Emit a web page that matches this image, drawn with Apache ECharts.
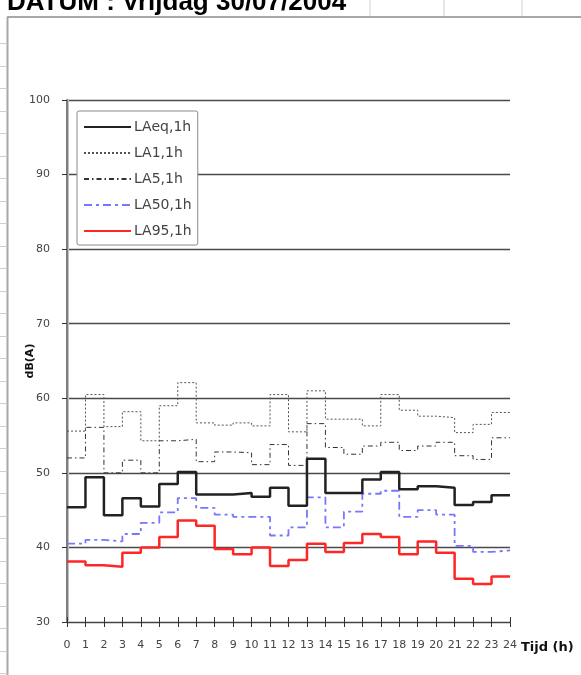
<!DOCTYPE html>
<html>
<head>
<meta charset="utf-8">
<title>DATUM : Vrijdag 30/07/2004</title>
<script src="https://cdn.jsdelivr.net/npm/echarts@6.0.0/dist/echarts.min.js"></script>
<style>
  html, body { margin: 0; padding: 0; background: #fff; }
  #chart { width: 581px; height: 675px; }
</style>
</head>
<body>
<div id="chart"></div>
<script>
// Uurwaarden 30/07/2004, waarde i geldt van uur i tot i+1
const hours = [0, 1, 2, 3, 4, 5, 6, 7, 8, 9, 10, 11, 12, 13, 14, 15, 16, 17, 18, 19, 20, 21, 22, 23, 24];

const laeq = [45.4, 49.4, 44.3, 46.6, 45.5, 48.5, 50.1, 47.1, 47.1, 47.3, 46.8, 48.0,
              45.6, 51.9, 47.3, 47.3, 49.1, 50.1, 47.8, 48.2, 48.0, 45.7, 46.1, 47.0];
const la1  = [55.6, 60.5, 56.2, 58.2, 54.3, 59.0, 62.1, 56.7, 56.4, 56.7, 56.3, 60.5,
              55.5, 61.0, 57.2, 57.2, 56.3, 60.5, 58.4, 57.6, 57.4, 55.4, 56.5, 58.1];
const la5  = [52.0, 56.1, 50.0, 51.7, 50.0, 54.3, 54.5, 51.5, 52.8, 52.7, 51.1, 53.8,
              51.0, 56.6, 53.4, 52.5, 53.6, 54.1, 53.0, 53.6, 54.1, 52.3, 51.8, 54.7];
const la50 = [40.5, 41.0, 40.8, 41.8, 43.3, 44.7, 46.6, 45.3, 44.4, 44.1, 44.1, 41.6,
              42.7, 46.7, 42.7, 44.8, 47.2, 47.6, 44.1, 45.0, 44.4, 40.2, 39.4, 39.6];
const la95 = [38.1, 37.6, 37.4, 39.3, 40.0, 41.4, 43.6, 42.9, 39.8, 39.1, 40.0, 37.5,
              38.3, 40.5, 39.4, 40.6, 41.8, 41.4, 39.1, 40.8, 39.3, 35.8, 35.1, 36.1];

const FONT = 'DejaVu Sans';

// trap: laatste uur doortrekken tot 24h
function stepData(values) {
  return hours.map((h, i) => [h, values[Math.min(i, values.length - 1)]]);
}

function lineSeries(name, values, color, width, type) {
  return {
    name: name,
    type: 'line',
    step: 'end',
    xAxisIndex: 0,
    yAxisIndex: 0,
    symbol: 'none',
    data: stepData(values),
    lineStyle: { color: color, width: width, type: type },
    itemStyle: { color: color }
  };
}

// spreadsheet-rand rond de grafiek
const frame = [
  { type: 'line', shape: { x1: 7, y1: 17, x2: 581, y2: 17 }, style: { stroke: '#a8a8a8', lineWidth: 2 } },
  { type: 'line', shape: { x1: 7.5, y1: 17, x2: 7.5, y2: 675 }, style: { stroke: '#a8a8a8', lineWidth: 2 } }
];
[370, 444, 522].forEach(x => {
  frame.push({ type: 'line', shape: { x1: x, y1: 0, x2: x, y2: 16 }, style: { stroke: '#cfcfcf', lineWidth: 1 } });
});
for (let y = 43; y < 675; y += 22.5) {
  frame.push({ type: 'line', shape: { x1: 0, y1: Math.round(y) + 0.5, x2: 6, y2: Math.round(y) + 0.5 }, style: { stroke: '#cfcfcf', lineWidth: 1 } });
}
frame.push({
  type: 'text',
  style: {
    x: 7, y: 3,
    text: 'DATUM : Vrijdag 30/07/2004',
    font: 'bold 26px "Liberation Sans"',
    fill: '#000',
    verticalAlign: 'middle'
  }
});

const chart = echarts.init(document.getElementById('chart'));

chart.setOption({
  animation: false,
  backgroundColor: '#fff',
  textStyle: { fontFamily: FONT },
  graphic: frame,
  grid: { left: 67, right: 71, top: 100, bottom: 53, containLabel: false },
  legend: {
    orient: 'vertical',
    left: 77,
    top: 111,
    padding: [9, 6, 7, 6],
    itemWidth: 47,
    itemHeight: 14,
    itemGap: 12,
    backgroundColor: '#fff',
    borderColor: '#8a8a8a',
    borderWidth: 1,
    borderRadius: 2,
    itemStyle: { opacity: 0 },
    textStyle: { fontFamily: FONT, fontSize: 14, color: '#444', padding: [0, 0, 0, -2] },
    data: ['LAeq,1h', 'LA1,1h', 'LA5,1h', 'LA50,1h', 'LA95,1h']
  },
  xAxis: [
    {
      type: 'value',
      min: 0,
      max: 24,
      interval: 1,
      name: 'Tijd (h)',
      nameLocation: 'end',
      nameGap: 11,
      nameMoveOverlap: false,
      nameTextStyle: { fontFamily: FONT, fontWeight: 'bold', fontSize: 13, color: '#111', verticalAlign: 'top', padding: [19, 0, 0, 0] },
      axisLine: { show: true, lineStyle: { color: '#444', width: 1.2 } },
      axisTick: { show: true, length: 5, lineStyle: { color: '#333' } },
      axisLabel: { fontFamily: FONT, fontSize: 11, color: '#444', margin: 18 },
      splitLine: { show: false }
    },
    {
      // tweede as alleen voor de naar binnen gerichte tickjes
      type: 'value',
      position: 'bottom',
      min: 0,
      max: 24,
      interval: 1,
      axisLine: { show: false },
      axisTick: { show: true, inside: true, length: 5, lineStyle: { color: '#333' } },
      axisLabel: { show: false },
      splitLine: { show: false }
    }
  ],
  yAxis: [
    {
      type: 'value',
      min: 30,
      max: 100,
      interval: 10,
      name: 'dB(A)',
      nameLocation: 'middle',
      nameGap: 31,
      nameMoveOverlap: false,
      nameTextStyle: { fontFamily: FONT, fontWeight: 'bold', fontSize: 11, color: '#111' },
      axisLine: { show: true, lineStyle: { color: '#c4c4c4', width: 3 } },
      axisTick: { show: true, length: 5, lineStyle: { color: '#333' } },
      axisLabel: { fontFamily: FONT, fontSize: 11, color: '#444', margin: 17 },
      splitLine: { show: true, lineStyle: { color: '#4a4a4a', width: 1.4 } }
    },
    {
      type: 'value',
      position: 'right',
      min: 30,
      max: 100,
      interval: 10,
      axisLine: { show: true, lineStyle: { color: '#666', width: 1.5 } },
      axisTick: { show: false },
      axisLabel: { show: false },
      splitLine: { show: false }
    }
  ],
  series: [
    lineSeries('LA1,1h', la1, '#555', 1, [2, 2]),
    lineSeries('LA5,1h', la5, '#333', 1, [5, 3, 1.5, 3]),
    lineSeries('LA50,1h', la50, '#7676ff', 1.8, [8, 4, 3, 4]),
    lineSeries('LA95,1h', la95, '#ff2626', 2.5, 'solid'),
    lineSeries('LAeq,1h', laeq, '#222', 2.5, 'solid')
  ]
});
</script>
</body>
</html>
